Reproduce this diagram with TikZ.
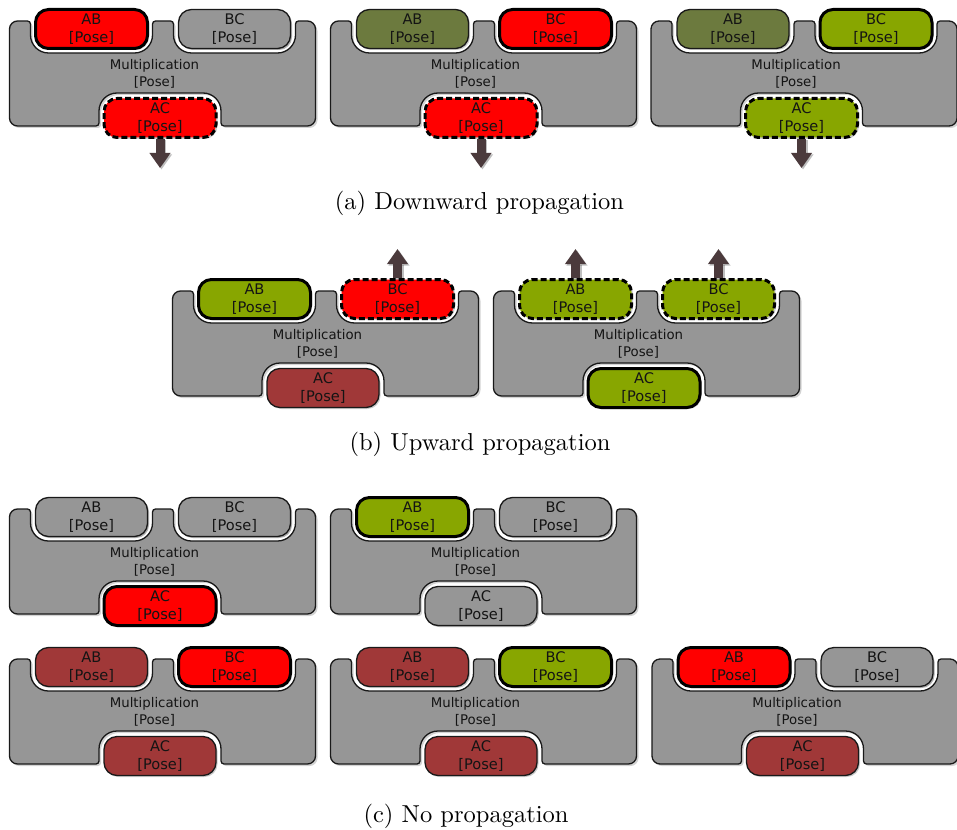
\documentclass[tikz,border=0pt]{standalone}
\usepackage{fontspec}
\newfontfamily\portfont{DejaVu Sans}
\newfontfamily\capfont{lmroman10-regular}[Extension=.otf]
\usetikzlibrary{shadows,arrows.meta}

\definecolor{bodygray}{RGB}{150,150,150}
\definecolor{edge}{RGB}{25,25,25}
\definecolor{hotred}{RGB}{255,0,0}
\definecolor{leaf}{RGB}{136,166,0}
\definecolor{dimleaf}{RGB}{108,122,62}
\definecolor{rust}{RGB}{160,56,56}
\definecolor{arrowbrown}{RGB}{75,58,60}
\definecolor{inktext}{RGB}{20,20,20}

\tikzset{
  body/.style={fill=bodygray, draw=edge, line width=1.3pt,
    drop shadow={shadow xshift=2pt, shadow yshift=-2pt, opacity=0.35}},
  port/.style={rectangle, rounded corners=13pt, minimum width=112pt,
    minimum height=39pt, inner sep=0pt, align=center, text=inktext,
    font=\portfont\fontsize{14.6}{18}\selectfont,
    drop shadow={shadow xshift=1.5pt, shadow yshift=-1.5pt, opacity=0.4}},
  thin/.style={draw=edge, line width=1.3pt},
  firm/.style={draw=black, line width=3pt},
  broken/.style={draw=black, line width=3pt, dash pattern=on 6pt off 3pt},
  idle/.style={port, thin, fill=bodygray},
  label/.style={align=center, text=inktext,
    font=\portfont\fontsize{13.3}{17}\selectfont},
  flow/.style={draw=arrowbrown, line width=9pt,
    -{Triangle[width=20pt,length=15pt]},
    preaction={draw=black, opacity=0.25, line width=9pt,
      transform canvas={xshift=1.5pt, yshift=-1.5pt},
      -{Triangle[width=20pt,length=15pt]}}},
  caption/.style={font=\capfont\fontsize{24.5}{29}\selectfont},
}

% Gray block outline with two sockets on top and one underneath,
% drawn in local pixel units (y pointing down)
\newcommand\blockbody{%
  \path[body] (8,0)
    -- (18,0) arc[start angle=270,end angle=360,radius=3]
    -- (21,14) arc[start angle=180,end angle=90,radius=18]
    -- (125,32) arc[start angle=90,end angle=0,radius=18]
    -- (143,3) arc[start angle=180,end angle=270,radius=3]
    -- (161,0) arc[start angle=270,end angle=360,radius=3]
    -- (164,14) arc[start angle=180,end angle=90,radius=18]
    -- (268,32) arc[start angle=90,end angle=0,radius=18]
    -- (286,3) arc[start angle=180,end angle=270,radius=3]
    -- (298,0) arc[start angle=270,end angle=360,radius=8]
    -- (306,97) arc[start angle=0,end angle=90,radius=8]
    -- (214.5,105) arc[start angle=90,end angle=180,radius=3]
    -- (211.5,90) arc[start angle=0,end angle=-90,radius=18]
    -- (107.5,72) arc[start angle=270,end angle=180,radius=18]
    -- (89.5,102) arc[start angle=0,end angle=90,radius=3]
    -- (8,105) arc[start angle=90,end angle=180,radius=8]
    -- (0,8) arc[start angle=180,end angle=270,radius=8]
    -- cycle;}

% #1 name prefix, #2 x, #3 y, #4 AB style, #5 BC style, #6 AC style
\newcommand\mulblock[6]{%
  \begin{scope}[shift={(#2,#3)}]
    \blockbody
    \node[label] (#1m) at (145,53) {Multiplication\\{[Pose]}};
    \node[port,#4] (#1ab) at (82,8) {AB\\{[Pose]}};
    \node[port,#5] (#1bc) at (225,8) {BC\\{[Pose]}};
    \node[port,#6] (#1ac) at (150.5,97) {AC\\{[Pose]}};
    \coordinate (#1down) at (150.5,147);
    \coordinate (#1upab) at (82,-42);
    \coordinate (#1upbc) at (225,-42);
  \end{scope}}

\begin{document}
\begin{tikzpicture}[x=1pt, y=-1pt]
  \useasboundingbox (0,0) rectangle (957,829);

  % (a) downward propagation
  \mulblock{a1}{9.5}{21}{firm,fill=hotred}{idle}{broken,fill=hotred}
  \mulblock{a2}{330.5}{21}{thin,fill=dimleaf}{firm,fill=hotred}{broken,fill=hotred}
  \mulblock{a3}{651}{21}{thin,fill=dimleaf}{firm,fill=leaf}{broken,fill=leaf}
  \draw[flow] (a1ac.south) -- (a1down);
  \draw[flow] (a2ac.south) -- (a2down);
  \draw[flow] (a3ac.south) -- (a3down);
  \node[caption] (capa) at (479.5,203) {(a) Downward propagation};

  % (b) upward propagation
  \mulblock{b1}{172.5}{291}{firm,fill=leaf}{broken,fill=hotred}{thin,fill=rust}
  \mulblock{b2}{493.5}{291}{broken,fill=leaf}{broken,fill=leaf}{firm,fill=leaf}
  \draw[flow] (b1bc.north) -- (b1upbc);
  \draw[flow] (b2ab.north) -- (b2upab);
  \draw[flow] (b2bc.north) -- (b2upbc);
  \node[caption] (capb) at (480,444) {(b) Upward propagation};

  % (c) no propagation
  \mulblock{c1}{9.5}{509}{idle}{idle}{firm,fill=hotred}
  \mulblock{c2}{330.5}{509}{firm,fill=leaf}{idle}{idle}
  \mulblock{c3}{9.5}{659}{thin,fill=rust}{firm,fill=hotred}{thin,fill=rust}
  \mulblock{c4}{330.5}{659}{thin,fill=rust}{firm,fill=leaf}{thin,fill=rust}
  \mulblock{c5}{652}{659}{firm,fill=hotred}{idle}{thin,fill=rust}
  \node[caption] (capc) at (466,816) {(c) No propagation};
\end{tikzpicture}
\end{document}
